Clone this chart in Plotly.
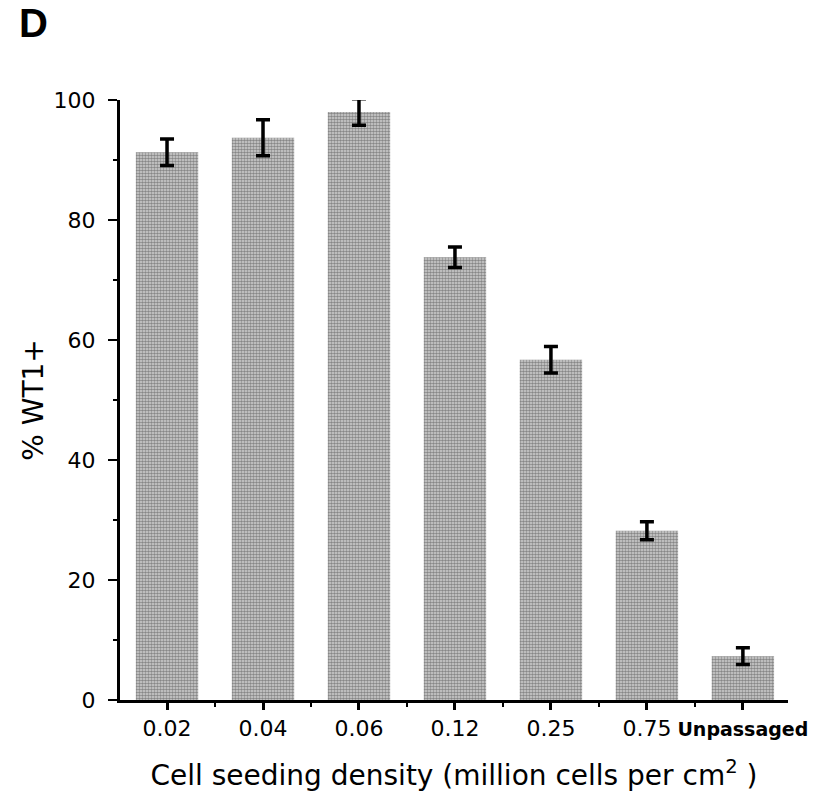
import plotly.graph_objects as go

categories = ["0.02", "0.04", "0.06", "0.12", "0.25", "0.75", "Unpassaged"]
values = [91.3, 93.7, 98.0, 73.8, 56.7, 28.2, 7.3]
errors = [2.2, 3.0, 2.2, 1.7, 2.2, 1.5, 1.4]
tick_text = categories[:-1] + [
    "<b><span style='font-size:19px'>" + categories[-1] + "</span></b>"]

x_idx = list(range(len(categories)))
FONT = "DejaVu Sans, Arial, sans-serif"

fig = go.Figure()
fig.add_trace(go.Bar(
    x=x_idx, y=values, width=0.65,
    marker=dict(color="#8a8a8a", line=dict(width=0),
                pattern=dict(shape=".", fgcolor="#3a3a3a", bgcolor="#d4d4d4",
                             size=3, solidity=0.6)),
    error_y=dict(type="data", array=errors, visible=True, color="black",
                 thickness=3.5, width=7),
))

fig.update_layout(
    width=824, height=809,
    margin=dict(l=120, r=36, t=100, b=109),
    plot_bgcolor="white", paper_bgcolor="white",
    showlegend=False,
    font=dict(family=FONT, color="black"),
)
fig.update_xaxes(
    range=[-0.49, 6.47], tickmode="array", tickvals=x_idx, ticktext=tick_text,
    showline=True, linecolor="black", linewidth=3, ticks="outside",
    ticklen=7, tickwidth=3, tickcolor="black", showgrid=False, zeroline=False,
    tickfont=dict(size=22),
    minor=dict(tickmode="array", tickvals=[i + 0.5 for i in range(-1, 7)],
               ticks="outside", ticklen=4, tickwidth=2, tickcolor="black"),
    title=dict(text="Cell seeding density (million cells per cm<sup>2</sup> )",
               font=dict(size=28), standoff=25),
)
fig.update_yaxes(
    range=[0, 100], tickvals=[0, 20, 40, 60, 80, 100],
    showline=True, linecolor="black", linewidth=3, ticks="outside",
    ticklen=9, tickwidth=2, tickcolor="black", showgrid=False, zeroline=False,
    tickfont=dict(size=22), ticklabelstandoff=8,
    minor=dict(tickvals=[10, 30, 50, 70, 90], ticks="outside", ticklen=4,
               tickwidth=2, tickcolor="black"),
    title=dict(text="% WT1+", font=dict(size=28), standoff=2),
)
fig.add_annotation(text="<b>D</b>", xref="paper", yref="paper",
                   x=-0.154, y=1.088, xanchor="left", yanchor="bottom",
                   showarrow=False,
                   font=dict(size=40, family="Liberation Sans, Arial"))

fig.write_html("out.html")
